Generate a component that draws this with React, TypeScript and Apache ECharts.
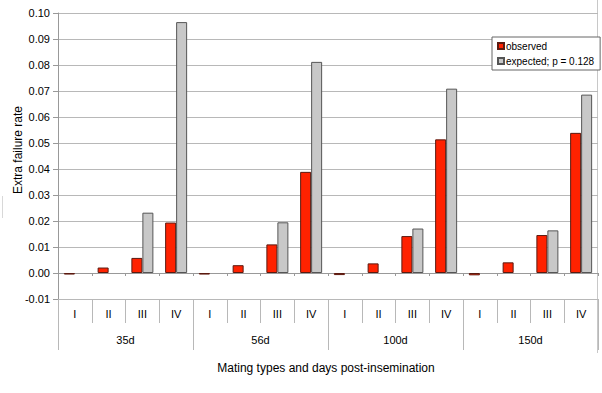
import React, { useEffect, useRef } from "react";
import * as echarts from "echarts";

const matingTypes = ["I", "II", "III", "IV"];
const dayGroups = ["35d", "56d", "100d", "150d"];
const subLabels = dayGroups.flatMap(() => matingTypes);

const observed = [
  -0.0006, 0.0021, 0.0058, 0.0194,
  -0.0006, 0.003, 0.011, 0.0389,
  -0.0008, 0.0037, 0.0142, 0.0514,
  -0.0009, 0.0041, 0.0146, 0.0539,
];
const expected = [
  null, null, 0.0232, 0.0965,
  null, null, 0.0195, 0.0812,
  null, null, 0.0171, 0.0709,
  null, null, 0.0164, 0.0686,
];

const yTicks = { min: -0.01, max: 0.1, interval: 0.01 };

const FONT = "Liberation Sans, Arial, sans-serif";

export default function App() {
  const ref = useRef<HTMLDivElement>(null);
  useEffect(() => {
    if (!ref.current) return;
    const chart = echarts.init(ref.current, null, { renderer: "svg" });
    const gridColor = "#b8b8b8";
    chart.setOption({
      animation: false,
      backgroundColor: "#ffffff",
      textStyle: { fontFamily: FONT, color: "#000" },
      grid: { left: 58, right: 4, top: 13, bottom: 94, containLabel: false },
      legend: {
        orient: "vertical",
        left: 492,
        top: 37,
        padding: [4, 6, 4, 5],
        itemGap: 5,
        itemWidth: 6,
        itemHeight: 6,
        icon: "rect",
        backgroundColor: "#fff",
        borderColor: "#666",
        borderWidth: 1,
        textStyle: { fontFamily: FONT, fontSize: 10, color: "#000", padding: [0, 0, 0, -3] },
        data: ["observed", "expected; p = 0.128"],
      },
      xAxis: [
        {
          type: "category",
          data: subLabels,
          axisLine: { onZero: true, lineStyle: { color: "#999", width: 1 } },
          axisTick: { show: true, length: 3, lineStyle: { color: "#999" } },
          axisLabel: { show: false },
          splitLine: { show: false },
          z: 1,
        },
        {
          type: "category",
          data: subLabels,
          position: "bottom",
          axisLine: { show: false, onZero: false },
          axisTick: { show: true, length: 24, lineStyle: { color: gridColor } },
          axisLabel: { show: true, margin: 9, fontSize: 11, fontFamily: FONT, color: "#000" },
        },
        {
          type: "category",
          data: dayGroups,
          position: "bottom",
          axisLine: { show: false, onZero: false },
          axisTick: { show: true, length: 51, lineStyle: { color: gridColor } },
          axisLabel: { show: true, margin: 35, fontSize: 11, fontFamily: FONT, color: "#000" },
        },
      ],
      yAxis: {
        type: "value",
        min: yTicks.min,
        max: yTicks.max,
        interval: yTicks.interval,
        axisLine: { show: true, lineStyle: { color: "#999" } },
        axisTick: { show: true, length: 5, lineStyle: { color: "#999" } },
        axisLabel: {
          fontSize: 11,
          margin: 8,
          fontFamily: FONT,
          color: "#000",
          formatter: (v: number) => v.toFixed(2),
        },
        splitLine: { show: true, lineStyle: { color: gridColor, width: 1 } },
      },
      series: [
        {
          name: "observed",
          type: "bar",
          xAxisIndex: 0,
          data: observed,
          barWidth: 11,
          barGap: "0%",
          itemStyle: { color: "#ff2200", borderColor: "#5a1a10", borderWidth: 1 },
          z: 3,
        },
        {
          name: "expected; p = 0.128",
          type: "bar",
          xAxisIndex: 0,
          data: expected,
          barWidth: 11,
          barGap: "0%",
          itemStyle: { color: "#c8c8c8", borderColor: "#555", borderWidth: 1 },
          z: 3,
        },
      ],
      graphic: [
        {
          type: "text",
          x: 18,
          y: 150,
          rotation: Math.PI / 2,
          style: {
            text: "Extra failure rate",
            x: 0,
            y: 0,
            fontSize: 12,
            fontFamily: FONT,
            fill: "#000",
            textAlign: "center",
            textVerticalAlign: "middle",
          },
        },
        {
          type: "text",
          style: {
            text: "Mating types and days post-insemination",
            x: 326,
            y: 368,
            fontSize: 12,
            fontFamily: FONT,
            fill: "#000",
            textAlign: "center",
            textVerticalAlign: "middle",
          },
        },
        {
          type: "line",
          shape: { x1: 597.5, y1: 0, x2: 597.5, y2: 353 },
          style: { stroke: "#c8c8c8", lineWidth: 1 },
        },
        {
          type: "line",
          shape: { x1: 2.5, y1: 196, x2: 2.5, y2: 218 },
          style: { stroke: "#d8d8d8", lineWidth: 1 },
        },
      ],
    });
    return () => chart.dispose();
  }, []);
  return (
    <div
      ref={ref}
      style={{ position: "absolute", left: 0, top: 0, width: 602, height: 393 }}
    />
  );
}
